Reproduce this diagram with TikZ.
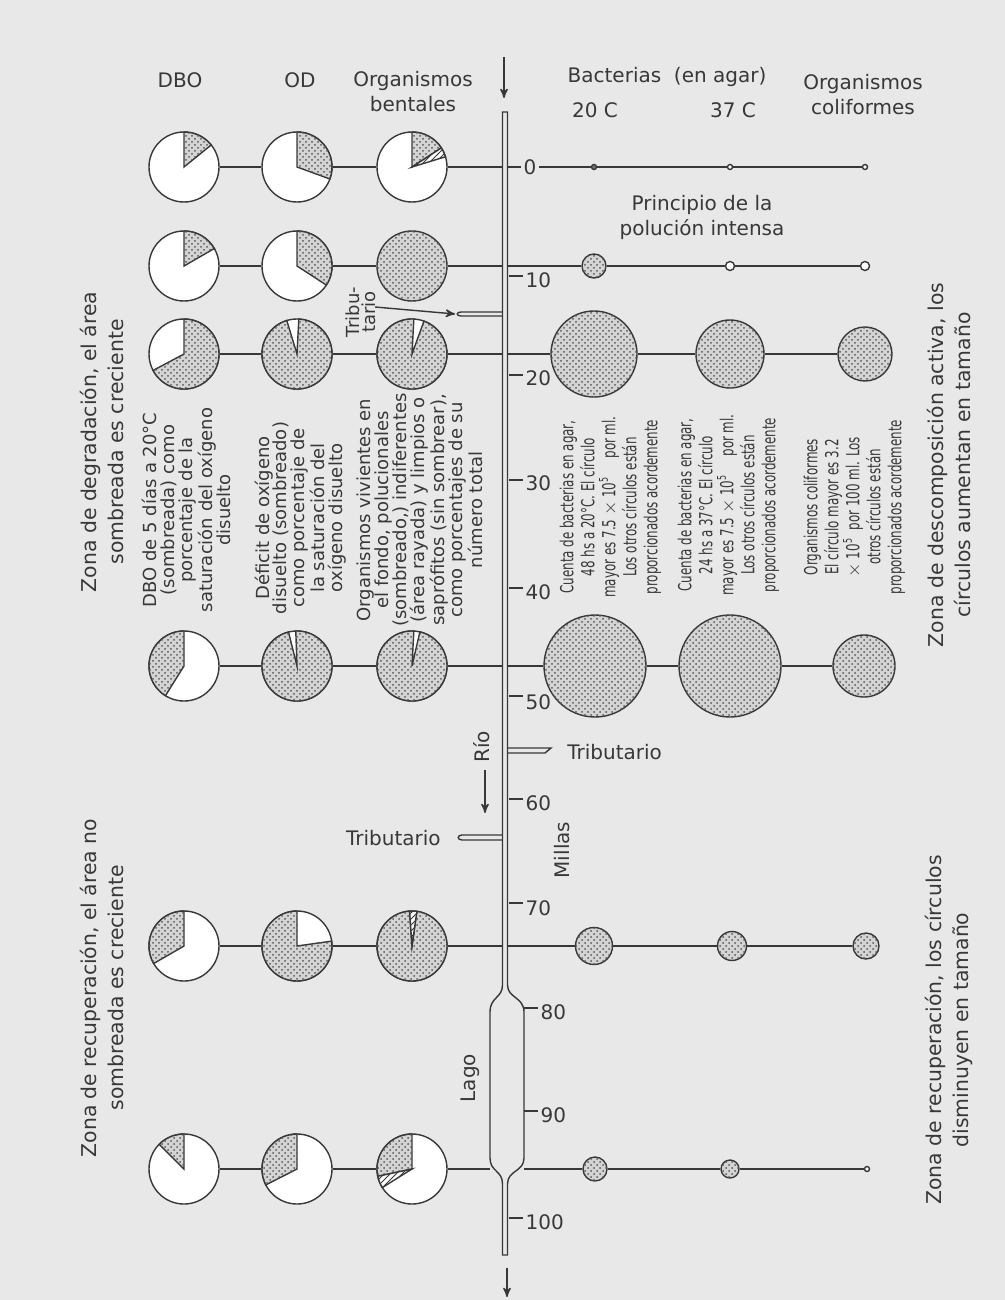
\documentclass[tikz,border=0pt]{standalone}
\usepackage{fontspec}
\setmainfont{DejaVu Sans}
\newfontfamily\narrowfont[FakeStretch=0.66]{DejaVu Sans}
\usetikzlibrary{arrows, patterns}
\definecolor{paper}{gray}{0.91}
\definecolor{ink}{gray}{0.22}
\newcommand{\pieslice}[4]{\filldraw[#4] (#1.center) -- ++(#2:17.5pt) arc[start angle=#2, end angle=#3, radius=17.5pt] -- cycle;}

\begin{document}
\begin{tikzpicture}[x=0.5pt,y=-0.5pt,>=stealth',line width=0.7pt,ink,
    pie/.style={circle,draw,fill=white,minimum size=35pt,inner sep=0pt},
    bubble/.style={circle,draw,stipple,inner sep=0pt},
    speck/.style={circle,draw,fill=white,inner sep=0pt,minimum size=2.5pt},
    stipple/.style={fill=black!17,postaction={pattern=crosshatch dots,pattern color=black!65}},
    hatch/.style={fill=white,postaction={pattern=north east lines,pattern color=ink}},
    head/.style={align=center,font=\fontsize{10}{12.5}\selectfont},
    num/.style={anchor=west,inner sep=1pt,font=\fontsize{10}{12}\selectfont},
    zone/.style={rotate=90,align=center,font=\fontsize{10.2}{13.5}\selectfont},
    note/.style={rotate=90,align=center,font=\fontsize{9}{8.9}\selectfont},
    count/.style={rotate=90,align=center,font=\narrowfont\fontsize{9}{10.5}\selectfont}]

\fill[paper] (0,0) rectangle (1005,1300);
\useasboundingbox (0,0) rectangle (1005,1300);

\node[head] (hdbo)  at (180,80)  {DBO};
\node[head] (hod)   at (300,80)  {OD};
\node[head] (hbent) at (413,92)  {Organismos\\bentales};
\node[head] (hbac)  at (667,77)  {Bacterias\ \ (en agar)};
\node[head] (h20)   at (595,110) {20 C};
\node[head] (h37)   at (733,110) {37 C};
\node[head] (hcoli) at (863,95)  {Organismos\\coliformes};
\node[head] (princ) at (702,217) {Principio de la\\polución intensa};

\draw (502.5,112) -- (507.5,112) -- (507.5,985) .. controls (507.5,998) and (524,997) .. (524,1012)
  -- (524,1158) .. controls (524,1172) and (507.5,1170) .. (507.5,1184) -- (507.5,1255) -- (502.5,1255)
  -- (502.5,1184) .. controls (502.5,1170) and (490,1172) .. (490,1158) -- (490,1012)
  .. controls (490,997) and (502.5,998) .. (502.5,985) -- cycle;
\draw (502.5,312) -- (461,312) .. controls (456,312) and (456,316) .. (461,316) -- (502.5,316);
\draw (507.5,748) -- (551,748) -- (545,753) -- (507.5,753);
\draw (502.5,835) -- (462,835) .. controls (457,835) and (457,840) .. (462,840) -- (502.5,840);

\coordinate (inA) at (504,57);
\coordinate (inB) at (504,98);
\coordinate (outA) at (507,1268);
\coordinate (outB) at (507,1297);
\coordinate (rioA) at (485,770);
\coordinate (rioB) at (485,813);
\coordinate (tribA) at (375,307);
\coordinate (tribB) at (455,314);

\node[head,rotate=90,font=\fontsize{9}{8}\selectfont] (trib) at (361,312) {Tribu-\\tario};
\node[head,rotate=90] (rio)    at (482,747)  {Río};
\node[head,rotate=90] (millas) at (562,850)  {Millas};
\node[head,rotate=90] (lago)   at (470,1078) {Lago};
\node[head,anchor=west] (tribr) at (560,752) {Tributario};
\node[head,anchor=east] (tribl) at (448,838) {Tributario};

\draw[->] (inA) -- (inB);
\draw[->] (outA) -- (outB);
\draw[->] (rioA) -- (rioB);
\draw[->] (tribA) -- (tribB);

\node[num] (t0)   at (521,167)  {0};
\node[num] (t10)  at (523,280)  {10};
\node[num] (t20)  at (523,378)  {20};
\node[num] (t30)  at (523,483)  {30};
\node[num] (t40)  at (523,592)  {40};
\node[num] (t50)  at (523,702)  {50};
\node[num] (t60)  at (523,803)  {60};
\node[num] (t70)  at (523,908)  {70};
\node[num] (t80)  at (538,1012) {80};
\node[num] (t90)  at (538,1115) {90};
\node[num] (t100) at (523,1222) {100};
\draw (t10.west) ++(0,-4) -- ++(-14,0);
\draw (t20.west) ++(0,-3) -- ++(-14,0);
\draw (t30.west) ++(0,-3) -- ++(-14,0);
\draw (t40.west) ++(0,-4) -- ++(-14,0);
\draw (t50.west) ++(0,-6) -- ++(-14,0);
\draw (t60.west) ++(0,-4) -- ++(-14,0);
\draw (t70.west) ++(0,-5) -- ++(-14,0);
\draw (t80.west) ++(0,-4) -- ++(-14,0);
\draw (t90.west) ++(0,-4) -- ++(-14,0);
\draw (t100.west) ++(0,-4) -- ++(-14,0);

\node[pie] (dbo1) at (184,167)  {};
\node[pie] (dbo2) at (184,266)  {};
\node[pie] (dbo3) at (184,354)  {};
\node[pie] (dbo4) at (184,666)  {};
\node[pie] (dbo5) at (184,946)  {};
\node[pie] (dbo6) at (184,1169) {};
\node[pie] (od1) at (297,167)  {};
\node[pie] (od2) at (297,266)  {};
\node[pie] (od3) at (297,354)  {};
\node[pie] (od4) at (297,666)  {};
\node[pie] (od5) at (297,946)  {};
\node[pie] (od6) at (297,1169) {};
\node[pie] (bt1) at (412,167)  {};
\node[pie,stipple] (bt2) at (412,266)  {};
\node[pie] (bt3) at (412,354)  {};
\node[pie] (bt4) at (412,666)  {};
\node[pie] (bt5) at (412,946)  {};
\node[pie] (bt6) at (412,1169) {};

\pieslice{dbo1}{39}{90}{stipple}
\pieslice{dbo2}{30}{90}{stipple}
\pieslice{dbo3}{208}{450}{stipple}
\pieslice{dbo4}{90}{238}{stipple}
\pieslice{dbo5}{90}{210}{stipple}
\pieslice{dbo6}{90}{135}{stipple}
\pieslice{od1}{-20}{90}{stipple}
\pieslice{od2}{-33}{90}{stipple}
\pieslice{od3}{107}{447}{stipple}
\pieslice{od4}{104}{452}{stipple}
\pieslice{od5}{90}{368}{stipple}
\pieslice{od6}{90}{207}{stipple}
\pieslice{bt1}{33}{90}{stipple}
\pieslice{bt1}{17}{33}{hatch}
\pieslice{bt3}{87}{430}{stipple}
\pieslice{bt4}{87}{437}{stipple}
\pieslice{bt5}{94}{442}{stipple}
\pieslice{bt5}{82}{94}{hatch}
\pieslice{bt6}{90}{192}{stipple}
\pieslice{bt6}{192}{212}{hatch}

\node[speck,fill=black!55] (bac1) at (594,167) {};
\node[speck] (bbc1) at (730,167) {};
\node[speck] (col1) at (865,167) {};
\node[bubble,minimum size=12pt]   (bac2) at (594,266) {};
\node[speck,minimum size=4.5pt]   (bbc2) at (730,266) {};
\node[speck,minimum size=4.5pt]   (col2) at (865,266) {};
\node[bubble,minimum size=43pt]   (bac3) at (594,354) {};
\node[bubble,minimum size=34pt]   (bbc3) at (730,354) {};
\node[bubble,minimum size=27pt]   (col3) at (865,354) {};
\node[bubble,minimum size=51pt]   (bac4) at (595,666) {};
\node[bubble,minimum size=51pt]   (bbc4) at (730,666) {};
\node[bubble,minimum size=31pt]   (col4) at (864,666) {};
\node[bubble,minimum size=18.5pt] (bac5) at (594,946) {};
\node[bubble,minimum size=14.5pt] (bbc5) at (732,946) {};
\node[bubble,minimum size=13pt]   (col5) at (866,946) {};
\node[bubble,minimum size=12pt]   (bac6) at (595,1169) {};
\node[bubble,minimum size=9pt]    (bbc6) at (730,1169) {};
\node[speck]                      (col6) at (867,1169) {};

\coordinate (rl1) at (502.5,167);
\coordinate (rl2) at (502.5,266);
\coordinate (rl3) at (502.5,354);
\coordinate (rl4) at (502.5,666);
\coordinate (rl5) at (502.5,946);
\coordinate (rl6) at (490,1169);
\coordinate (rr1) at (507.5,167);
\coordinate (rr2) at (507.5,266);
\coordinate (rr3) at (507.5,354);
\coordinate (rr4) at (507.5,666);
\coordinate (rr5) at (507.5,946);
\coordinate (rr6) at (524,1169);

\path
(dbo1) edge (od1) (od1) edge (bt1) (bt1) edge (rl1)
(dbo2) edge (od2) (od2) edge (bt2) (bt2) edge (rl2)
(dbo3) edge (od3) (od3) edge (bt3) (bt3) edge (rl3)
(dbo4) edge (od4) (od4) edge (bt4) (bt4) edge (rl4)
(dbo5) edge (od5) (od5) edge (bt5) (bt5) edge (rl5)
(dbo6) edge (od6) (od6) edge (bt6) (bt6) edge (rl6)
(rr1) edge (t0) (t0) edge (bac1) (bac1) edge (bbc1) (bbc1) edge (col1)
(rr2) edge (bac2) (bac2) edge (bbc2) (bbc2) edge (col2)
(rr3) edge (bac3) (bac3) edge (bbc3) (bbc3) edge (col3)
(rr4) edge (bac4) (bac4) edge (bbc4) (bbc4) edge (col4)
(rr5) edge (bac5) (bac5) edge (bbc5) (bbc5) edge (col5)
(rr6) edge (bac6) (bac6) edge (bbc6) (bbc6) edge (col6)
;

\node[zone] (zdeg)  at (101.5,442)  {Zona de degradación, el área\\sombreada es creciente};
\node[zone] (zdesc) at (948.5,465)  {Zona de descomposición activa, los\\círculos aumentan en tamaño};
\node[zone] (zrecl) at (101.5,988)  {Zona de recuperación, el área no\\sombreada es creciente};
\node[zone] (zrecr) at (948.5,1030) {Zona de recuperación, los círculos\\disminuyen en tamaño};

\node[note] (ndbo)  at (186.5,510) {DBO de 5 días a 20°C\\(sombreada) como\\porcentaje de la\\saturación del oxígeno\\disuelto};
\node[note] (nod)   at (300.5,518) {Déficit de oxígeno\\disuelto (sombreado)\\como porcentaje de\\la saturación del\\oxígeno disuelto};
\node[note] (nbent) at (420,510)   {Organismos vivientes en\\el fondo, polucionales\\(sombreado,) indiferentes\\(área rayada) y limpios o\\saprófitos (sin sombrear),\\como porcentajes de su\\número total};

\node[count] (cnt20)  at (610.5,507) {Cuenta de bacterias en agar,\\48 hs a 20°C. El círculo\\mayor es 7.5 $\times$ 10\textsuperscript{5}\quad por ml.\\Los otros círculos están\\proporcionados acordemente};
\node[count] (cnt37)  at (728.5,505) {Cuenta de bacterias en agar,\\24 hs a 37°C. El círculo\\mayor es 7.5 $\times$ 10\textsuperscript{5}\quad por ml.\\Los otros círculos están\\proporcionados acordemente};
\node[count] (cntcol) at (854.5,507) {Organismos coliformes\\El círculo mayor es 3.2\\$\times$ 10\textsuperscript{5}\ \ por 100 ml. Los\\otros círculos están\\proporcionados acordemente};

\end{tikzpicture}
\end{document}
